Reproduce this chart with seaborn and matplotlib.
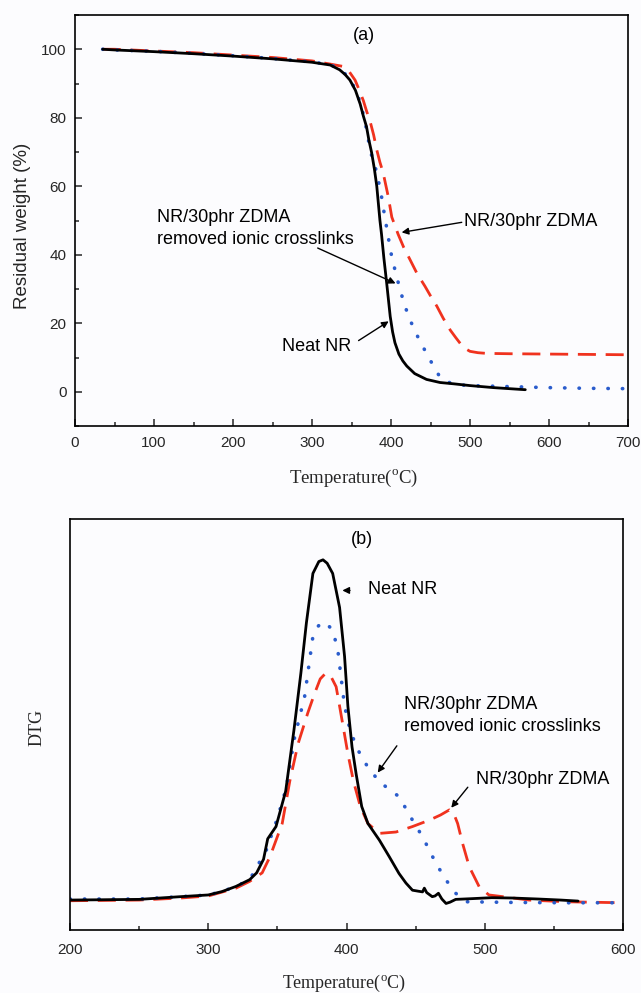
import numpy as np
import pandas as pd
import matplotlib
matplotlib.use('Agg')
import matplotlib.pyplot as plt
import seaborn as sns
from matplotlib.ticker import MultipleLocator, NullLocator

# ---- (a) TGA curves: temperature (C) vs residual weight (%) ----
tga_neat_t = [35, 50, 100, 150, 200, 250, 300, 323, 335, 342, 348, 355, 361, 365, 369,
              372, 375.5, 379, 382, 384, 386, 388, 391, 394.5, 399, 402, 405, 410, 415,
              420, 430, 445, 462, 480, 500, 530, 563, 570]
tga_neat_w = [100, 99.8, 99.3, 98.7, 98.0, 97.2, 96.2, 95.4, 94, 92.6, 91, 88, 84, 80.5, 77.4,
              73.5, 69.8, 65, 60, 55, 50, 46, 39, 31.8, 22, 17.5, 14.3, 11, 9,
              7.5, 5.3, 3.6, 2.7, 2.3, 1.8, 1.2, 0.7, 0.6]

tga_removed_t = [35, 50, 100, 150, 200, 250, 300, 323, 335, 342, 348, 355, 361, 366, 370,
                 373.5, 378, 382, 385, 388, 392.5, 396, 399, 403, 407, 411, 415, 420, 426,
                 434, 440, 447, 456, 464, 475, 487.5, 500, 550, 600, 650, 700]
tga_removed_w = [100, 99.8, 99.4, 98.8, 98.1, 97.3, 96.3, 95.5, 94.2, 92.8, 91.2, 88.3, 84.5, 80, 75.5,
                 70.6, 67, 64, 60.5, 57, 50.5, 46, 41.5, 37.5, 33.7, 30.3, 27, 23.5, 20,
                 16, 13.3, 10.4, 6.5, 3.6, 2.6, 2.0, 1.8, 1.5, 1.2, 1.0, 0.9]

tga_zdma_t = [35, 50, 100, 150, 200, 250, 300, 320, 339, 347, 354.5, 360, 365, 369, 373.5,
              378, 382, 386, 390, 396.5, 401, 405, 409, 416, 424, 433, 443, 450, 458,
              466, 475, 482, 488, 494, 500, 510, 521, 550, 600, 650, 700]
tga_zdma_w = [100, 100, 99.5, 99, 98.3, 97.6, 96.6, 95.8, 95, 93.5, 91, 88, 85, 82, 79,
              75, 70.6, 67, 64, 57, 51, 48.5, 46, 42.2, 38.6, 34.5, 30.8, 28, 25,
              21.5, 18, 15.8, 14, 12.6, 11.8, 11.4, 11.2, 11.1, 11.0, 10.9, 10.8]

# ---- (b) DTG curves (arbitrary units) ----
dtg_neat_t = [200, 250, 280, 300, 310, 320, 330, 335, 340, 343, 349, 356, 362, 367, 371,
              375.7, 380, 383, 386, 390, 395, 398.6, 401, 404, 407, 411, 415.5, 423.8,
              431, 438, 443, 447.7, 452, 455, 456.3, 458, 462, 464, 466.5, 469, 472,
              475, 479, 490, 505, 520, 539, 555, 567.5]
dtg_neat_v = [0, 0.2, 1, 1.5, 2.5, 4, 6, 8, 12, 18, 21.6, 32, 50, 66.7, 81.5,
              96, 99.5, 100, 99, 96, 86, 71.6, 57, 45, 37, 27.5, 22.5, 17.6,
              12.7, 7.8, 5, 2.9, 2.6, 2.4, 3.5, 2.2, 1, 1.2, 2, 0.3, -1,
              -0.6, 0.2, 0.4, 0.7, 0.6, 0.3, 0, -0.3]

dtg_removed_t = [200, 250, 280, 300, 310, 320, 330, 342, 350, 356.5, 362, 369.7, 375.7,
                 379.5, 383, 386, 390, 393.7, 396, 398.6, 402, 407, 415.5, 423.8, 431,
                 438, 447.7, 455, 464.7, 472, 479, 486.4, 520, 560, 597]
dtg_removed_v = [0.3, 0.3, 1, 1.5, 2.5, 4, 6, 14.7, 24, 33, 47, 59.8, 77.5,
                 80.5, 81.8, 81, 79.4, 73.5, 65.7, 57, 51, 45, 39, 34.8, 32.5,
                 30.4, 23.5, 18.6, 10.8, 5.9, 2, -0.5, -0.7, -0.8, -0.8]

dtg_zdma_t = [200, 250, 280, 300, 320, 330, 339, 344.6, 353.5, 359, 365, 372, 377, 381,
              385, 389, 392.5, 395, 398, 401, 405, 410, 415.5, 423.8, 435.8, 447.7, 460,
              468, 474.4, 477.5, 480.4, 484, 488.8, 496, 503, 513, 532, 558.6, 600]
dtg_zdma_v = [-0.2, 0, 0.6, 1.2, 3.5, 5.5, 8, 12.7, 22.5, 35, 46, 55, 60.8, 65,
              66.7, 65.5, 62.7, 57, 50, 43, 35, 27.5, 22.5, 19.6, 20, 21.6, 23.5,
              25, 26.5, 25.5, 22.5, 16.6, 9.8, 3.9, 1.5, 1, 0, -0.5, -0.8]

RED = '#f0321e'
BLUE = '#2a5ccc'
BG = '#fcfcfe'

sns.set_style('ticks')
plt.rcParams['font.family'] = ['Liberation Sans', 'DejaVu Sans']
plt.rcParams['mathtext.fontset'] = 'custom'
plt.rcParams['mathtext.rm'] = 'Liberation Serif'
plt.rcParams['axes.linewidth'] = 1.2

fig = plt.figure(figsize=(6.41, 9.93), dpi=100, facecolor=BG)
ax_a = fig.add_axes([75 / 641, 1 - 426 / 993, 553 / 641, 411 / 993])
ax_b = fig.add_axes([70 / 641, 1 - 930 / 993, 553 / 641, 411 / 993])

styles = {
    'neat': dict(color='black', linestyle='-', linewidth=2.0),
    'removed': dict(color=BLUE, linestyle=(0, (0.1, 3.9)), linewidth=2.6,
                    dash_capstyle='round'),
    'zdma': dict(color=RED, linestyle=(0, (6.5, 3.5)), linewidth=2.0),
}

# panel (a)
sns.lineplot(x=tga_zdma_t, y=tga_zdma_w, ax=ax_a, sort=False, estimator=None, **styles['zdma'])
sns.lineplot(x=tga_removed_t, y=tga_removed_w, ax=ax_a, sort=False, estimator=None, **styles['removed'])
sns.lineplot(x=tga_neat_t, y=tga_neat_w, ax=ax_a, sort=False, estimator=None, **styles['neat'])

# panel (b)
sns.lineplot(x=dtg_zdma_t, y=dtg_zdma_v, ax=ax_b, sort=False, estimator=None, **styles['zdma'])
sns.lineplot(x=dtg_removed_t, y=dtg_removed_v, ax=ax_b, sort=False, estimator=None, **styles['removed'])
sns.lineplot(x=dtg_neat_t, y=dtg_neat_v, ax=ax_b, sort=False, estimator=None, **styles['neat'])

for ax in (ax_a, ax_b):
    ax.set_facecolor(BG)
    for sp in ax.spines.values():
        sp.set_visible(True)
        sp.set_linewidth(1.2)
        sp.set_color('black')
    ax.tick_params(which='both', direction='in', top=False, right=False,
                   labelsize=11, width=1.1)
    ax.tick_params(which='major', length=5)
    ax.tick_params(which='minor', length=3)

ax_a.set_xlim(0, 700)
ax_a.set_ylim(-10, 110)
ax_a.xaxis.set_major_locator(MultipleLocator(100))
ax_a.xaxis.set_minor_locator(MultipleLocator(50))
ax_a.yaxis.set_minor_locator(MultipleLocator(10))
ax_a.set_yticks([0, 20, 40, 60, 80, 100])
ax_a.tick_params(axis='x', pad=7)
ax_a.tick_params(axis='y', pad=6)

ax_b.set_xlim(200, 600)
ax_b.set_ylim(-8.8, 112)
ax_b.xaxis.set_major_locator(MultipleLocator(100))
ax_b.xaxis.set_minor_locator(MultipleLocator(50))
ax_b.yaxis.set_major_locator(NullLocator())
ax_b.yaxis.set_minor_locator(NullLocator())
ax_b.tick_params(axis='x', pad=9.5)

serif = ['Liberation Serif', 'DejaVu Serif']
xlab = r'Temperature($^{\mathrm{o}}$C)'
ax_a.set_xlabel(xlab, fontsize=13.5, family=serif)
ax_a.xaxis.set_label_coords(0.503, -0.102)
ax_a.set_ylabel('Residual weight (%)', fontsize=13.5)
ax_a.yaxis.set_label_coords(-0.08, 0.487)
ax_b.set_xlabel(xlab, fontsize=13, family=serif)
ax_b.xaxis.set_label_coords(0.496, -0.105)
ax_b.set_ylabel('DTG', fontsize=13, family=serif)
ax_b.yaxis.set_label_coords(-0.044, 0.494)

ann = dict(fontsize=13, color='black')
arr = dict(arrowstyle='-|>', color='black', lw=1.0, mutation_scale=10)

ax_a.text(366, 104, '(a)', ha='center', va='center', **ann)
ax_a.text(104, 47.6, 'NR/30phr ZDMA\nremoved ionic crosslinks', ha='left', va='center',
          linespacing=1.35, **ann)
ax_a.annotate('', xy=(409, 31.3), xytext=(304, 42.3), arrowprops=arr)
ax_a.text(493, 49.6, 'NR/30phr ZDMA', ha='left', va='center', **ann)
ax_a.annotate('', xy=(410, 46.4), xytext=(493, 49.6), arrowprops=arr)
ax_a.text(262, 13.3, 'Neat NR', ha='left', va='center', **ann)
ax_a.annotate('', xy=(400, 21), xytext=(356, 14.5), arrowprops=arr)

ax_b.text(411, 106, '(b)', ha='center', va='center', **ann)
ax_b.text(415.4, 91.4, 'Neat NR', ha='left', va='center', **ann)
ax_b.annotate('', xy=(395, 91), xytext=(404.5, 91), arrowprops=arr)
ax_b.text(441.5, 54.2, 'NR/30phr ZDMA\nremoved ionic crosslinks', ha='left', va='center',
          linespacing=1.35, **ann)
ax_b.annotate('', xy=(421.4, 36.8), xytext=(437.6, 46), arrowprops=arr)
ax_b.text(493.7, 35.5, 'NR/30phr ZDMA', ha='left', va='center', **ann)
ax_b.annotate('', xy=(474.5, 26.5), xytext=(489, 33.8), arrowprops=arr)

fig.savefig('out.png', dpi=100, facecolor=BG)
